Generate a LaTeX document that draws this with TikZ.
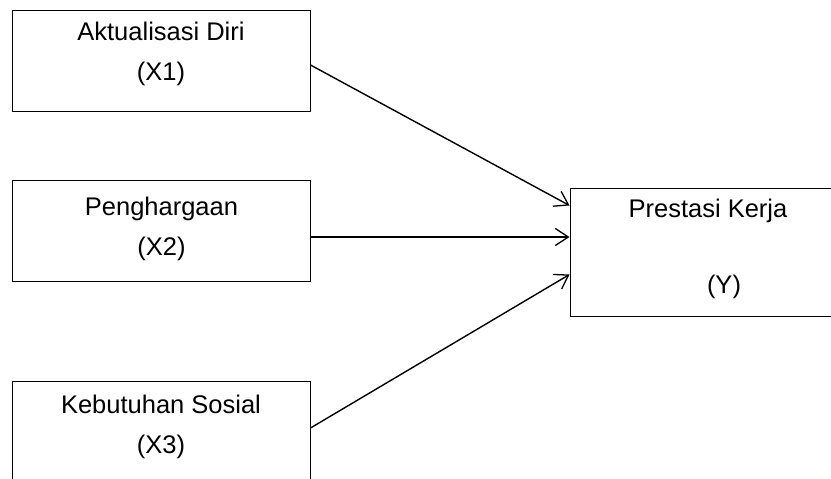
\documentclass[tikz,border=0pt]{standalone}
\usepackage{fontspec}
\setmainfont{Liberation Sans}
\usetikzlibrary{calc,arrows.meta}
\tikzset{
  varbox/.style={draw, line width=1pt, inner sep=0pt, minimum width=298pt, minimum height=101pt},
  vartext/.style={align=center, anchor=base, inner sep=0pt, font=\fontsize{25.5}{40}\selectfont},
  pathline/.style={line width=1.4pt, -{Straight Barb[length=13pt,width=17pt,line width=1.3pt]}},
}
\begin{document}
\begin{tikzpicture}[x=1pt,y=-1pt]
  \useasboundingbox (0,0) rectangle (831,479);
  \begin{scope}
    \clip (0,0) rectangle (831,479);
    \node[varbox] (x1) at (161,60.5) {};
    \node[varbox] (x2) at (161.5,230.5) {};
    \node[varbox] (x3) at (161,431.5) {};
    \node[varbox, minimum width=276pt, minimum height=128pt] (y) at (708,252) {};

    \node[vartext] (x1text) at (161,80) {Aktualisasi Diri\\(X1)};
    \node[vartext] (x2text) at (161.5,255) {Penghargaan\\(X2)};
    \node[vartext] (x3text) at (161,453) {Kebutuhan Sosial\\(X3)};
    \node[vartext] (ytext) at (708,293) {Prestasi Kerja\\[36pt]\hspace*{32pt}(Y)};

    \draw[pathline] ($(x1.east)+(0,4.5)$) -- ($(y.north west)+(0,18)$);
    \draw[pathline] ($(x2.east)+(0,6.5)$) coordinate (a2) -- (a2 -| y.west);
    \draw[pathline] ($(x3.east)+(0,-3.5)$) -- ($(y.south west)+(0,-42)$);
  \end{scope}
\end{tikzpicture}
\end{document}
